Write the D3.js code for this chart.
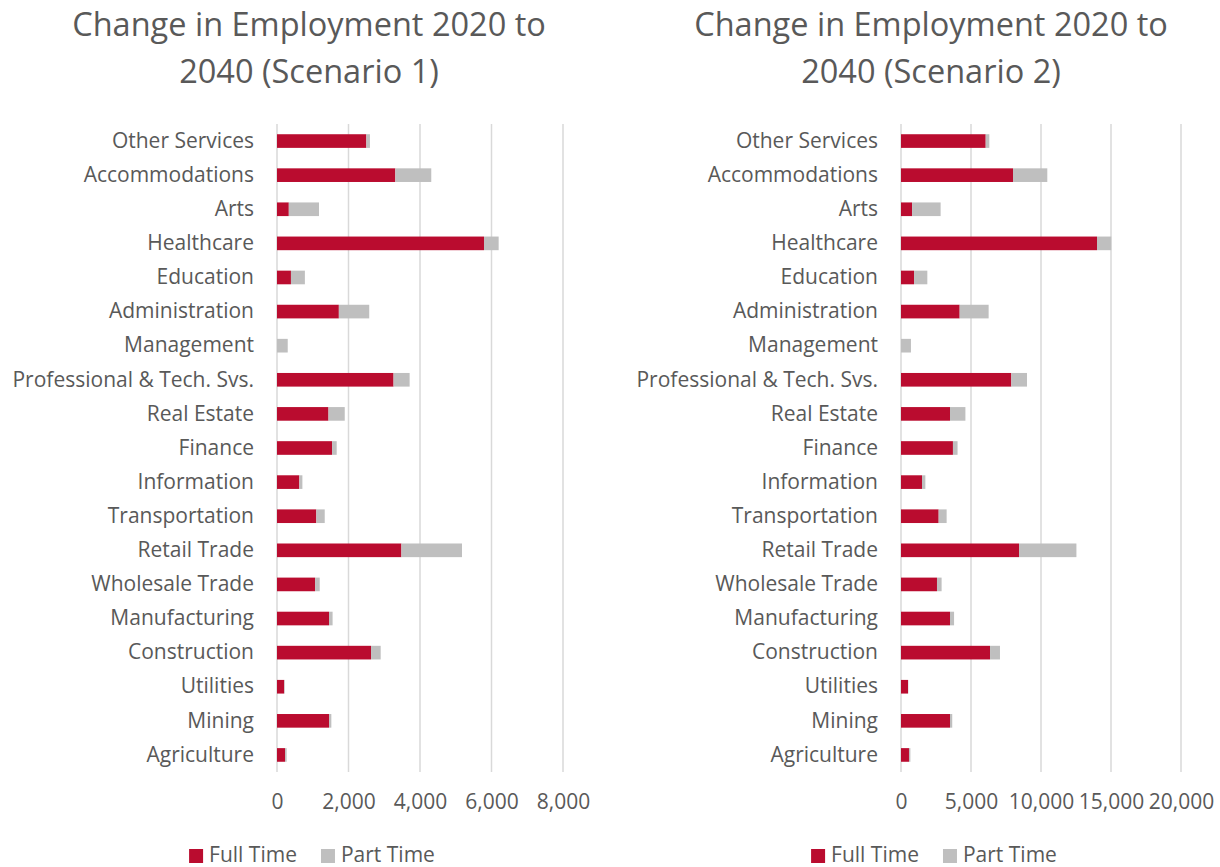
<!DOCTYPE html>
<html>
<head>
<meta charset="utf-8">
<script src="https://cdn.jsdelivr.net/npm/d3@7"></script>
<style>
  html, body { margin: 0; padding: 0; background: #ffffff; }
  svg { display: block; }
  text { font-family: "Open Sans", Lato, sans-serif; fill: #595959; }
</style>
</head>
<body>
<svg id="chart" width="1220" height="867"></svg>
<script>
// Industry sectors, listed top to bottom
const categories = [
  "Other Services", "Accommodations", "Arts", "Healthcare", "Education",
  "Administration", "Management", "Professional & Tech. Svs.", "Real Estate",
  "Finance", "Information", "Transportation", "Retail Trade", "Wholesale Trade",
  "Manufacturing", "Construction", "Utilities", "Mining", "Agriculture"
];

// Scenario 1: change in jobs 2020 -> 2040
const s1FullTime = [2500, 3310, 330, 5790, 390, 1730, 0, 3260, 1440, 1540, 625, 1100, 3480, 1065, 1455, 2630, 200, 1455, 225];
const s1PartTime = [100, 1005, 845, 410, 390, 850, 300, 450, 455, 130, 85, 235, 1695, 130, 100, 270, 15, 65, 45];

// Scenario 2: change in jobs 2020 -> 2040
const s2FullTime = [6050, 8000, 790, 14000, 930, 4190, 0, 7880, 3500, 3710, 1500, 2690, 8430, 2570, 3500, 6360, 500, 3500, 570];
const s2PartTime = [260, 2450, 2040, 1020, 950, 2070, 710, 1120, 1100, 330, 240, 570, 4100, 330, 290, 710, 25, 160, 100];

const s1Ticks = [0, 2000, 4000, 6000, 8000];
const s2Ticks = [0, 5000, 10000, 15000, 20000];

const seriesNames = ["Full Time", "Part Time"];
const seriesColors = ["#BA0C2F", "#BFBFBF"];

const svg = d3.select("#chart");
const fmt = d3.format(",");
const LABEL_SIZE = "21px";
const TITLE_SIZE = "32.5px";

function drawPanel(opts) {
  const g = svg.append("g");
  const rows = categories.map((c, i) => ({ cat: c, ft: opts.ft[i], pt: opts.pt[i] }));

  const x = d3.scaleLinear().domain([0, opts.ticks[opts.ticks.length - 1]]).range([opts.x0, opts.x1]);
  const y = d3.scaleBand().domain(categories).range([124, 772]).paddingInner(0.6).paddingOuter(0.3);

  // Title (two lines)
  const title = g.append("text")
    .attr("x", opts.cx).attr("y", 36)
    .attr("text-anchor", "middle")
    .style("font-size", TITLE_SIZE);
  title.append("tspan").attr("x", opts.cx).attr("dy", 0).text(opts.title[0]);
  title.append("tspan").attr("x", opts.cx).attr("dy", 47).text(opts.title[1]);

  // Vertical gridlines
  g.append("g").selectAll("line").data(opts.ticks).join("line")
    .attr("x1", d => x(d)).attr("x2", d => x(d))
    .attr("y1", 124).attr("y2", 772)
    .attr("stroke", "#D9D9D9").attr("stroke-width", 1.5);

  // Value axis labels
  const xAxis = d3.axisBottom(x).tickValues(opts.ticks).tickFormat(fmt).tickSize(0).tickPadding(0);
  const ax = g.append("g").attr("transform", "translate(0,794)").call(xAxis);
  ax.select(".domain").remove();
  ax.selectAll("text").style("font-size", LABEL_SIZE).style("fill", "#595959")
    .attr("dy", "0.71em").style("font-family", "'Open Sans', sans-serif");

  // Category labels
  const yAxis = d3.axisLeft(y).tickSize(0).tickPadding(0);
  const ay = g.append("g").attr("transform", `translate(${opts.x0 - 23},0)`).call(yAxis);
  ay.select(".domain").remove();
  ay.selectAll("text").style("font-size", LABEL_SIZE).style("fill", "#595959")
    .style("font-family", "'Open Sans', sans-serif");

  // Stacked bars
  const stack = d3.stack().keys(["ft", "pt"]);
  const layers = stack(rows);
  g.append("g").selectAll("g").data(layers).join("g")
    .attr("fill", (d, i) => seriesColors[i])
    .selectAll("rect").data(d => d).join("rect")
    .attr("x", d => x(d[0]))
    .attr("y", d => y(d.data.cat))
    .attr("width", d => Math.max(0, x(d[1]) - x(d[0])))
    .attr("height", y.bandwidth());

  // Legend, centred under the title
  const leg = g.append("g");
  let cursor = 0;
  seriesNames.forEach((name, i) => {
    const item = leg.append("g").attr("transform", `translate(${cursor},0)`);
    item.append("rect").attr("x", 0).attr("y", 849).attr("width", 14).attr("height", 14)
      .attr("fill", seriesColors[i]);
    const t = item.append("text").attr("x", 20).attr("y", 862).style("font-size", LABEL_SIZE).text(name);
    cursor += 20 + t.node().getComputedTextLength() + 24;
  });
  const legW = cursor - 24;
  leg.attr("transform", `translate(${opts.cx - legW / 2 + 3},0)`);
}

drawPanel({
  title: ["Change in Employment 2020 to", "2040 (Scenario 1)"],
  cx: 309, x0: 277, x1: 563,
  ft: s1FullTime, pt: s1PartTime, ticks: s1Ticks
});

drawPanel({
  title: ["Change in Employment 2020 to", "2040 (Scenario 2)"],
  cx: 931, x0: 901, x1: 1181,
  ft: s2FullTime, pt: s2PartTime, ticks: s2Ticks
});
</script>
</body>
</html>
